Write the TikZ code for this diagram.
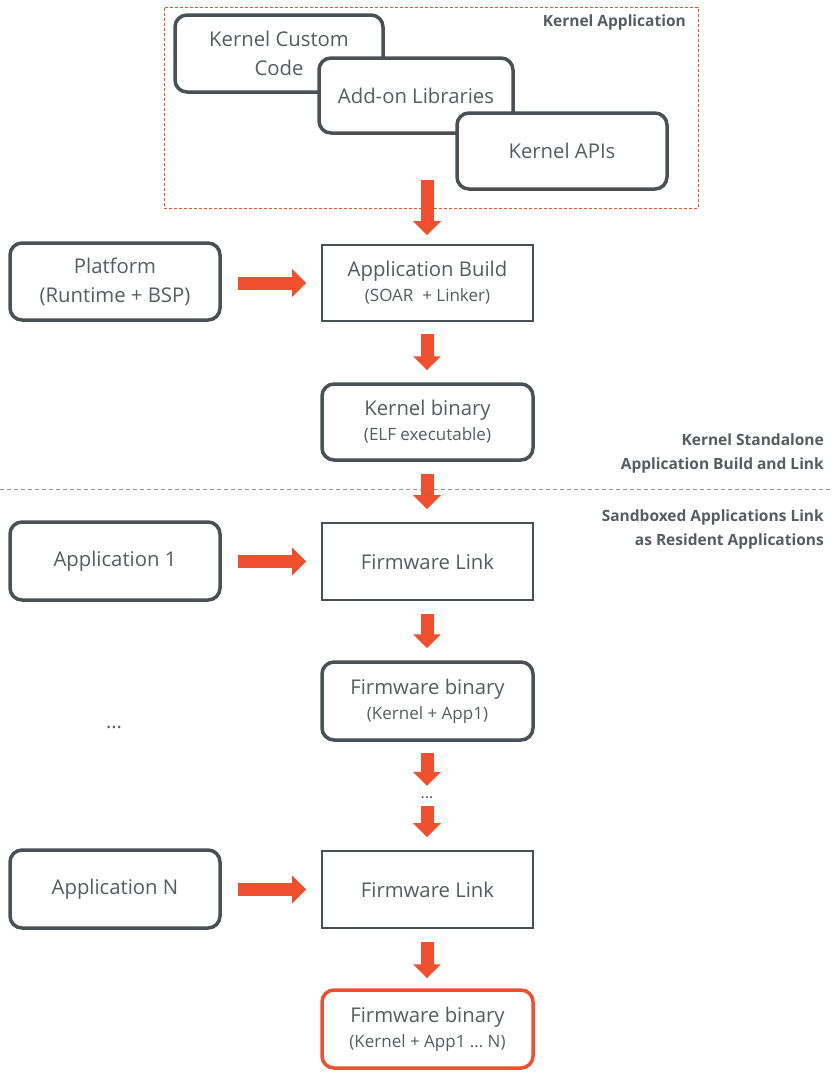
\documentclass[tikz,border=0pt]{standalone}
\usepackage{fontspec}
\setmainfont{Open Sans}
\usetikzlibrary{arrows.meta,calc}
\definecolor{boxgray}{HTML}{4A5156}
\definecolor{txtgray}{HTML}{575C60}
\definecolor{redarr}{HTML}{F0502D}
\newcommand\subtxt[1]{{\fontsize{17}{17}\selectfont #1}}
\tikzset{
  rbox/.style={draw=boxgray, line width=3.5pt, rounded corners=12pt, fill=white,
    minimum width=#1, inner sep=0pt, align=center, text=txtgray,
    font=\fontsize{20.3}{29}\selectfont},
  rbox/.default=208pt,
  sbox/.style={draw=boxgray, line width=1.8pt, fill=white, minimum width=211pt,
    inner sep=0pt, align=center, text=txtgray, font=\fontsize{20.3}{29}\selectfont},
  bigarrow/.style={draw=redarr, line width=13pt,
    -{Triangle[width=27pt,length=14pt]}},
  sidelabel/.style={text=txtgray, font=\fontsize{15.5}{24}\selectfont\bfseries,
    align=right, anchor=east, inner sep=0pt},
  dotstyle/.style={text=txtgray, inner sep=0pt, anchor=base}
}
\begin{document}
\begin{tikzpicture}[x=1pt,y=-1pt]
\useasboundingbox (0,0) rectangle (835,1074);
% kernel application group
\node[draw=redarr, line width=0.9pt, dash pattern=on 3pt off 2pt, minimum width=534pt,
  minimum height=201pt, inner sep=0pt] (kapp) at (431,107.5) {};
\node[sidelabel] (kapplbl) at (686,22) {Kernel Application};
\node[rbox, minimum height=77pt] (custom) at (279,53.5) {Kernel Custom\\Code};
\node[rbox=194pt, minimum height=75pt] (addon) at (416,95.5) {Add-on Libraries};
\node[rbox=210pt, minimum height=76pt] (apis) at (562,151) {Kernel APIs};
% build row
\node[rbox=210pt, minimum height=77pt] (platform) at (115,281.5) {Platform\\(Runtime + BSP)};
\node[sbox, minimum height=76pt] (build) at (427.5,283)
  {Application Build\\[-4pt]\subtxt{(SOAR\ \ + Linker)}};
\node[rbox=211pt, minimum height=76pt] (kbin) at (427.5,422)
  {Kernel binary\\[-4pt]\subtxt{(ELF executable)}};
% separator
\coordinate (sepL) at (0,489);
\coordinate (sepR) at (830,489);
\draw[draw=gray!80, line width=0.9pt, dash pattern=on 4pt off 3pt] (sepL) -- (sepR);
\node[sidelabel] (lblA) at (824,453) {Kernel Standalone\\Application Build and Link};
\node[sidelabel] (lblB) at (824,529) {Sandboxed Applications Link\\as Resident Applications};
% app 1 row
\node[rbox=210pt, minimum height=78pt] (app1) at (115,561) {Application 1};
\node[sbox, minimum height=77pt] (fw1) at (427.5,561.5) {Firmware Link};
\node[rbox=211pt, minimum height=78pt] (fwbin1) at (427.5,701)
  {Firmware binary\\[-4pt]\subtxt{(Kernel + App1)}};
\node[dotstyle, font=\fontsize{20}{20}\selectfont] (dotsL) at (114,728) {...};
\node[dotstyle, font=\fontsize{16}{16}\selectfont] (dotsM) at (427,798) {...};
% app N row
\node[rbox=210pt, minimum height=78pt] (appN) at (115,889) {Application N};
\node[sbox, minimum height=77pt] (fwN) at (427.5,889.5) {Firmware Link};
\node[rbox=211pt, minimum height=78pt, draw=redarr] (fwbinN) at (427.5,1029)
  {Firmware binary\\[-4pt]\subtxt{(Kernel + App1 \dots\ N)}};
% arrows
\coordinate (kstart) at (427,180);
\draw[bigarrow, shorten >=9pt] (kstart) -- (build.north -| kstart);
\draw[bigarrow, shorten <=16pt, shorten >=15pt] (platform.east |- build) -- (build.west);
\draw[bigarrow, shorten <=12pt, shorten >=12pt] (build.south -| kstart) -- (kbin.north -| kstart);
\draw[bigarrow, shorten <=12pt, shorten >=13pt] (kbin.south -| kstart) -- (fw1.north -| kstart);
\draw[bigarrow, shorten <=16pt, shorten >=15pt] (app1.east |- fw1) -- (fw1.west);
\draw[bigarrow, shorten <=13pt, shorten >=12pt] (fw1.south -| kstart) -- (fwbin1.north -| kstart);
\draw[bigarrow, shorten <=11pt, shorten >=10pt] (fwbin1.south -| kstart) -- (dotsM.north);
\draw[bigarrow, shorten <=8pt, shorten >=13pt] (dotsM.south) -- (fwN.north -| kstart);
\draw[bigarrow, shorten <=16pt, shorten >=15pt] (appN.east |- fwN) -- (fwN.west);
\draw[bigarrow, shorten <=13pt, shorten >=10pt] (fwN.south -| kstart) -- (fwbinN.north -| kstart);
\end{tikzpicture}
\end{document}
